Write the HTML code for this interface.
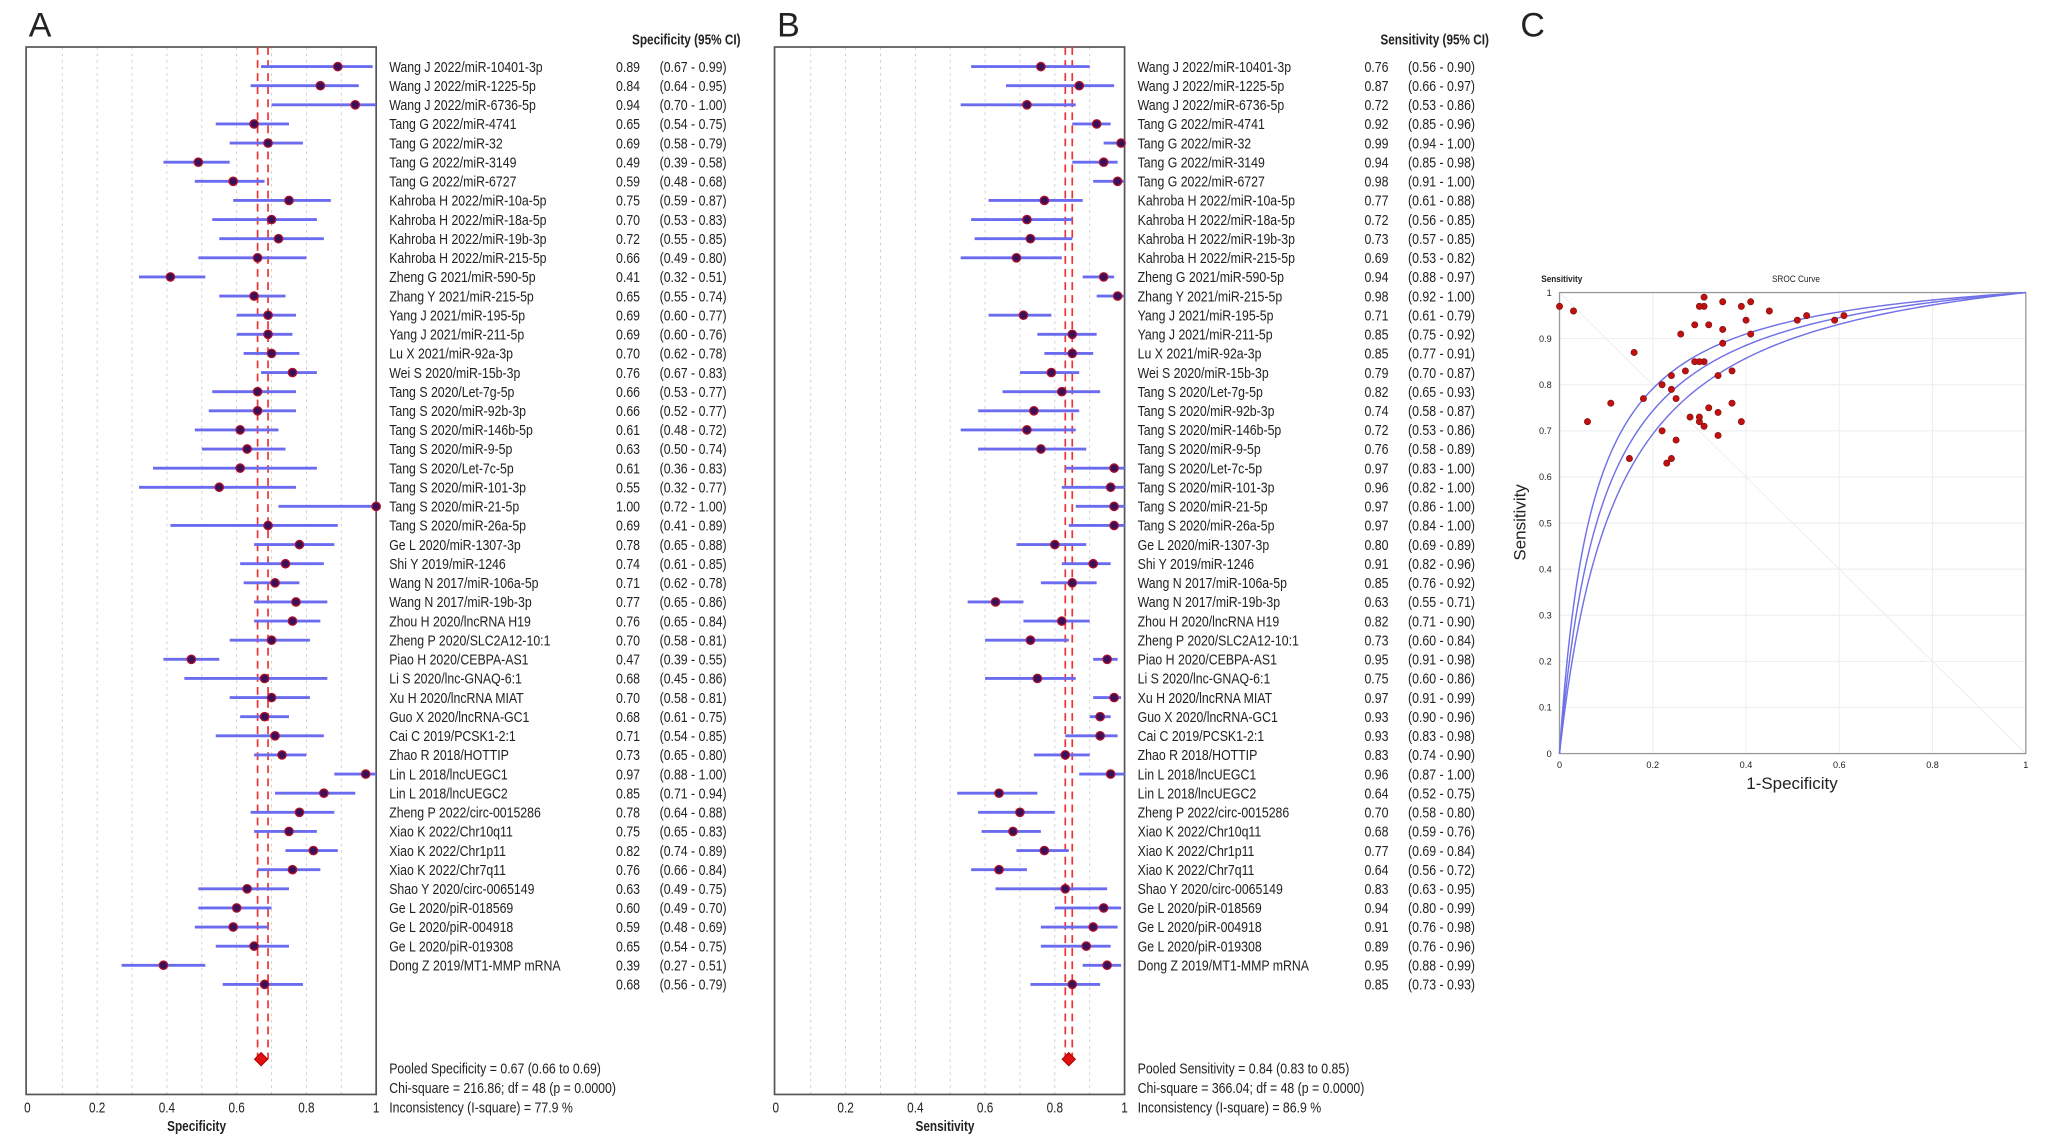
<!DOCTYPE html>
<html><head><meta charset="utf-8"><style>
html,body{margin:0;padding:0;background:#fff}
svg{display:block}
text{font-family:"Liberation Sans",sans-serif;fill:#222}
</style></head><body>
<svg id="fig" width="2048" height="1148" viewBox="0 0 1568 879" preserveAspectRatio="none" xmlns="http://www.w3.org/2000/svg"></svg>
<script>
const studyLabels=["Wang J 2022/miR-10401-3p","Wang J 2022/miR-1225-5p","Wang J 2022/miR-6736-5p","Tang G 2022/miR-4741","Tang G 2022/miR-32","Tang G 2022/miR-3149","Tang G 2022/miR-6727","Kahroba H 2022/miR-10a-5p","Kahroba H 2022/miR-18a-5p","Kahroba H 2022/miR-19b-3p","Kahroba H 2022/miR-215-5p","Zheng G 2021/miR-590-5p","Zhang Y 2021/miR-215-5p","Yang J 2021/miR-195-5p","Yang J 2021/miR-211-5p","Lu X 2021/miR-92a-3p","Wei S 2020/miR-15b-3p","Tang S 2020/Let-7g-5p","Tang S 2020/miR-92b-3p","Tang S 2020/miR-146b-5p","Tang S 2020/miR-9-5p","Tang S 2020/Let-7c-5p","Tang S 2020/miR-101-3p","Tang S 2020/miR-21-5p","Tang S 2020/miR-26a-5p","Ge L 2020/miR-1307-3p","Shi Y 2019/miR-1246","Wang N 2017/miR-106a-5p","Wang N 2017/miR-19b-3p","Zhou H 2020/lncRNA H19","Zheng P 2020/SLC2A12-10:1","Piao H 2020/CEBPA-AS1","Li S 2020/lnc-GNAQ-6:1","Xu H 2020/lncRNA MIAT","Guo X 2020/lncRNA-GC1","Cai C 2019/PCSK1-2:1","Zhao R 2018/HOTTIP","Lin L 2018/lncUEGC1","Lin L 2018/lncUEGC2","Zheng P 2022/circ-0015286","Xiao K 2022/Chr10q11","Xiao K 2022/Chr1p11","Xiao K 2022/Chr7q11","Shao Y 2020/circ-0065149","Ge L 2020/piR-018569","Ge L 2020/piR-004918","Ge L 2020/piR-019308","Dong Z 2019/MT1-MMP mRNA"];
const spec=[0.89,0.84,0.94,0.65,0.69,0.49,0.59,0.75,0.70,0.72,0.66,0.41,0.65,0.69,0.69,0.70,0.76,0.66,0.66,0.61,0.63,0.61,0.55,1.00,0.69,0.78,0.74,0.71,0.77,0.76,0.70,0.47,0.68,0.70,0.68,0.71,0.73,0.97,0.85,0.78,0.75,0.82,0.76,0.63,0.60,0.59,0.65,0.39];
const specLo=[0.67,0.64,0.70,0.54,0.58,0.39,0.48,0.59,0.53,0.55,0.49,0.32,0.55,0.60,0.60,0.62,0.67,0.53,0.52,0.48,0.50,0.36,0.32,0.72,0.41,0.65,0.61,0.62,0.65,0.65,0.58,0.39,0.45,0.58,0.61,0.54,0.65,0.88,0.71,0.64,0.65,0.74,0.66,0.49,0.49,0.48,0.54,0.27];
const specHi=[0.99,0.95,1.00,0.75,0.79,0.58,0.68,0.87,0.83,0.85,0.80,0.51,0.74,0.77,0.76,0.78,0.83,0.77,0.77,0.72,0.74,0.83,0.77,1.00,0.89,0.88,0.85,0.78,0.86,0.84,0.81,0.55,0.86,0.81,0.75,0.85,0.80,1.00,0.94,0.88,0.83,0.89,0.84,0.75,0.70,0.69,0.75,0.51];
const sens=[0.76,0.87,0.72,0.92,0.99,0.94,0.98,0.77,0.72,0.73,0.69,0.94,0.98,0.71,0.85,0.85,0.79,0.82,0.74,0.72,0.76,0.97,0.96,0.97,0.97,0.80,0.91,0.85,0.63,0.82,0.73,0.95,0.75,0.97,0.93,0.93,0.83,0.96,0.64,0.70,0.68,0.77,0.64,0.83,0.94,0.91,0.89,0.95];
const sensLo=[0.56,0.66,0.53,0.85,0.94,0.85,0.91,0.61,0.56,0.57,0.53,0.88,0.92,0.61,0.75,0.77,0.70,0.65,0.58,0.53,0.58,0.83,0.82,0.86,0.84,0.69,0.82,0.76,0.55,0.71,0.60,0.91,0.60,0.91,0.90,0.83,0.74,0.87,0.52,0.58,0.59,0.69,0.56,0.63,0.80,0.76,0.76,0.88];
const sensHi=[0.90,0.97,0.86,0.96,1.00,0.98,1.00,0.88,0.85,0.85,0.82,0.97,1.00,0.79,0.92,0.91,0.87,0.93,0.87,0.86,0.89,1.00,1.00,1.00,1.00,0.89,0.96,0.92,0.71,0.90,0.84,0.98,0.86,0.99,0.96,0.98,0.90,1.00,0.75,0.80,0.76,0.84,0.72,0.95,0.99,0.98,0.96,0.99];
const summarySpec=[0.68,0.56,0.79];
const summarySens=[0.85,0.73,0.93];
const pooledSpec=[0.67,0.66,0.69];
const pooledSens=[0.84,0.83,0.85];
const xTicks=[0,0.2,0.4,0.6,0.8,1];
const rocXTicks=[0,0.2,0.4,0.6,0.8,1];
const rocYTicks=[0,0.1,0.2,0.3,0.4,0.5,0.6,0.7,0.8,0.9,1];
const srocLnDOR=[2.2,2.45,2.72];

const NS="http://www.w3.org/2000/svg";
const svg=document.getElementById('fig');
function el(tag,attrs,parent){const e=document.createElementNS(NS,tag);for(const k in attrs)e.setAttribute(k,attrs[k]);(parent||svg).appendChild(e);return e;}
function txt(x,y,s,size,opts,parent){opts=opts||{};const t=el('text',{transform:`translate(${x},${y}) scale(${opts.sx||0.82},1)`,'font-size':size,'text-anchor':opts.anchor||'start','font-weight':opts.bold?'bold':'normal'},parent);t.textContent=s;return t;}
const f=v=>v.toFixed(2);

function forest(off,letter,vals,lo,hi,summ,pooled,title,axisTitle,footer,prefix){
  const g=el('g',{});
  
  
  const X0=21+off,X1=288+off,top=36,bot=838;
  const sx=v=>X0+(X1-X0)*v;
  const rowY=i=>51+i*14.64;
  const L=txt(22+off,28,letter,26,{sx:1},g);
  
  for(let k=1;k<10;k++){const gl=el('line',{x1:sx(k/10),x2:sx(k/10),y1:top,y2:bot,stroke:'#ccc','stroke-width':0.7,'stroke-dasharray':'2,3'},g);
    }
  const box=el('rect',{x:X0-1,y:top,width:X1-X0+1,height:bot-top,fill:'none',stroke:'#555','stroke-width':1.3},g);
  
  const dy=811;
  [pooled[1],pooled[2]].forEach(v=>{const l=el('line',{x1:sx(v),x2:sx(v),y1:top,y2:dy,stroke:'#e33','stroke-width':1.3,'stroke-dasharray':'6,4'},g);
    });
  const hdr=txt(X1+279,34,title,11,{bold:true,anchor:'end'},g);
  
  const all=vals.map((v,i)=>[v,lo[i],hi[i],studyLabels[i]]);all.push([summ[0],summ[1],summ[2],'']);
  all.forEach((r,i)=>{
    const y=rowY(i);
    const ci=el('line',{x1:sx(r[1]),x2:sx(r[2]),y1:y,y2:y,stroke:'#6b6bf0','stroke-width':2.2},g);
    
    const d=el('circle',{cx:sx(r[0]),cy:y,r:3.2,fill:'#3a1058',stroke:'#b0102a','stroke-width':1},g);
    
    if(r[3]){const t=txt(X1+10,y+4,r[3],11.5,{},g);}
    const v=txt(X1+202,y+4,f(r[0]),11.5,{anchor:'end'},g);
    const c=txt(X1+217,y+4,`(${f(r[1])} - ${f(r[2])})`,11.5,{},g);
  });
  const cx=sx(pooled[0]);
  const dia=el('path',{d:`M${cx-5},${dy} L${cx},${dy-5} L${cx+5},${dy} L${cx},${dy+5} Z`,fill:'#e01010',stroke:'#a00','stroke-width':0.8},g);
  
  xTicks.forEach(t=>{const tl=txt(sx(t),852,String(t),11,{anchor:'middle'},g);});
  const at=txt((X0+X1)/2-4,866,axisTitle,11,{bold:true,anchor:'middle'},g);
  
  footer.forEach((s,i)=>{const t=txt(X1+10,822+i*15,s,11.5,{},g);});
}
forest(0,'A',spec,specLo,specHi,summarySpec,pooledSpec,'Specificity (95% CI)','Specificity',
 ['Pooled Specificity = 0.67 (0.66 to 0.69)','Chi-square = 216.86; df =  48 (p = 0.0000)','Inconsistency (I-square) = 77.9 %'],'specificity');
forest(573,'B',sens,sensLo,sensHi,summarySens,pooledSens,'Sensitivity (95% CI)','Sensitivity',
 ['Pooled Sensitivity = 0.84 (0.83 to 0.85)','Chi-square = 366.04; df =  48 (p = 0.0000)','Inconsistency (I-square) = 86.9 %'],'sensitivity');

// SROC panel
(function(){
  const g=el('g',{});
  
  
  const X0=1194,X1=1551,Y0=577,Y1=224;
  const px=v=>X0+(X1-X0)*v, py=v=>Y0-(Y0-Y1)*v;
  const L=txt(1164,28,'C',26,{sx:1},g);
  rocXTicks.forEach(t=>{if(t>0&&t<1){const l=el('line',{x1:px(t),x2:px(t),y1:Y1,y2:Y0,stroke:'#eee','stroke-width':0.8},g);}});
  rocYTicks.forEach(t=>{if(t>0&&t<1){const l=el('line',{x1:X0,x2:X1,y1:py(t),y2:py(t),stroke:'#eee','stroke-width':0.8},g);}});
  const diag=el('line',{x1:px(0),y1:py(1),x2:px(1),y2:py(0),stroke:'#eee','stroke-width':0.8},g);
  
  const fr=el('rect',{x:X0,y:Y1,width:X1-X0,height:Y0-Y1,fill:'none',stroke:'#999','stroke-width':1},g);
  
  srocLnDOR.forEach(D=>{
    let d='';
    for(let k=0;k<=200;k++){const fp=Math.pow(k/200,2.2);let s;
      if(fp<=0)s=0;else if(fp>=1)s=1;else{const lg=Math.log(fp/(1-fp))+D;s=1/(1+Math.exp(-lg));}
      d+=(k?'L':'M')+px(fp).toFixed(2)+','+py(s).toFixed(2);}
    const p=el('path',{d:d,fill:'none',stroke:'#7070e8','stroke-width':1.1},g);
    
  });
  spec.forEach((s,i)=>{const c=el('circle',{cx:px(1-s),cy:py(sens[i]),r:2.4,fill:'#c01010',stroke:'#801010','stroke-width':0.5},g);
    });
  rocXTicks.forEach(t=>{const tl=txt(px(t),588,String(t),7,{anchor:'middle',sx:1},g);});
  rocYTicks.forEach(t=>{const tl=txt(X0-6,py(t)+2.5,String(t),7,{anchor:'end',sx:1},g);});
  const st=txt(1180,216,'Sensitivity',7,{bold:true,sx:0.9},g);
  const tt=txt(1375,216,'SROC Curve',7,{anchor:'middle',sx:0.9},g);
  const xt=txt(1372,604,'1-Specificity',13,{anchor:'middle',sx:1},g);
  const yt=el('text',{transform:'translate(1168,400) rotate(-90)','font-size':13,'text-anchor':'middle'},g);
  yt.textContent='Sensitivity';
  
  
})();
</script>
</body></html>
